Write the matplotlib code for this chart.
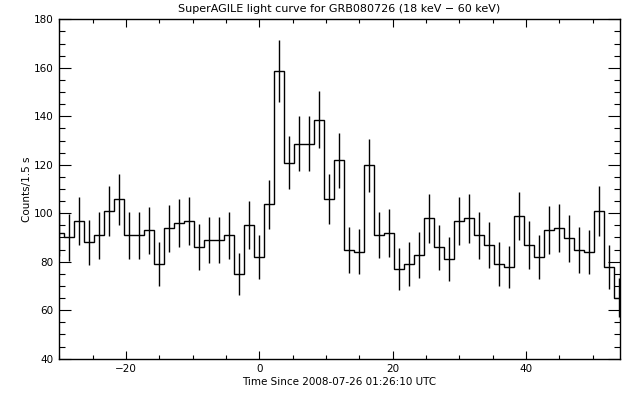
import numpy as np
import matplotlib
matplotlib.use("Agg")
import matplotlib.pyplot as plt
from matplotlib.ticker import MultipleLocator

# light curve, 1.5 s bins, centres from -30 s
bin_width = 1.5
t_start = -30.0

counts = [91.8, 90.0, 96.7, 88.0, 91.0, 100.8, 105.7, 91.0, 91.0, 93.0,
          79.1, 93.8, 96.0, 96.7, 86.0, 88.9, 88.9, 91.0, 75.0, 95.1,
          81.9, 103.7, 158.7, 120.9, 128.7, 128.7, 138.6, 105.7, 121.8, 84.9,
          84.1, 119.7, 91.0, 91.8, 77.0, 79.1, 82.8, 97.9, 86.0, 81.1,
          96.7, 97.9, 91.0, 86.9, 79.1, 77.8, 98.8, 86.9, 81.9, 93.0,
          93.8, 89.7, 84.8, 84.0, 100.8, 77.8, 65.1]

errors = [9.6, 9.6, 9.9, 9.4, 9.7, 10.3, 10.4, 9.7, 9.7, 9.7,
          9.0, 9.8, 10.0, 9.9, 9.4, 9.6, 9.6, 9.7, 8.8, 9.8,
          9.0, 10.1, 12.8, 11.0, 11.4, 11.4, 11.8, 10.3, 11.2, 9.4,
          9.2, 11.0, 9.6, 9.8, 8.8, 9.1, 9.4, 10.0, 9.3, 9.0,
          9.9, 10.0, 9.7, 9.5, 9.1, 8.8, 10.0, 9.7, 9.2, 9.8,
          9.9, 9.7, 9.4, 9.2, 10.3, 9.0, 8.1]

title = "SuperAGILE light curve for GRB080726 (18 keV \u2212 60 keV)"
xlabel = "Time Since 2008-07-26 01:26:10 UTC"
ylabel = "Counts/1.5 s"

n = len(counts)
centres = t_start + bin_width * np.arange(n)
edges = np.append(centres - bin_width / 2, centres[-1] + bin_width / 2)

fig = plt.figure(figsize=(6.33, 3.97), dpi=100)
ax = fig.add_axes([0.0935, 0.0965, 0.886, 0.8549])

ax.stairs(counts, edges, baseline=None, color="black", linewidth=1.0)
ax.vlines(centres, np.array(counts) - np.array(errors),
          np.array(counts) + np.array(errors), color="black", linewidth=1.0)

ax.set_xlim(-30.0, 54.1)
ax.set_ylim(40, 180)

ax.xaxis.set_major_locator(MultipleLocator(20))
ax.xaxis.set_minor_locator(MultipleLocator(5))
ax.yaxis.set_major_locator(MultipleLocator(20))
ax.yaxis.set_minor_locator(MultipleLocator(5))

ax.tick_params(axis="both", which="both", direction="in", top=True, right=True,
               labeltop=False, labelright=False, width=0.8, labelsize=7.5, pad=4)
ax.tick_params(axis="x", which="major", length=5.8)
ax.tick_params(axis="x", which="minor", length=2.9)
ax.tick_params(axis="y", which="major", length=8.3)
ax.tick_params(axis="y", which="minor", length=4.1)

for s in ax.spines.values():
    s.set_linewidth(1.0)

ax.set_title(title, fontsize=8, pad=5)
ax.set_xlabel(xlabel, fontsize=7.5, labelpad=2)
ax.set_ylabel(ylabel, fontsize=7.5, labelpad=1)

fig.savefig("out.png", dpi=100)
